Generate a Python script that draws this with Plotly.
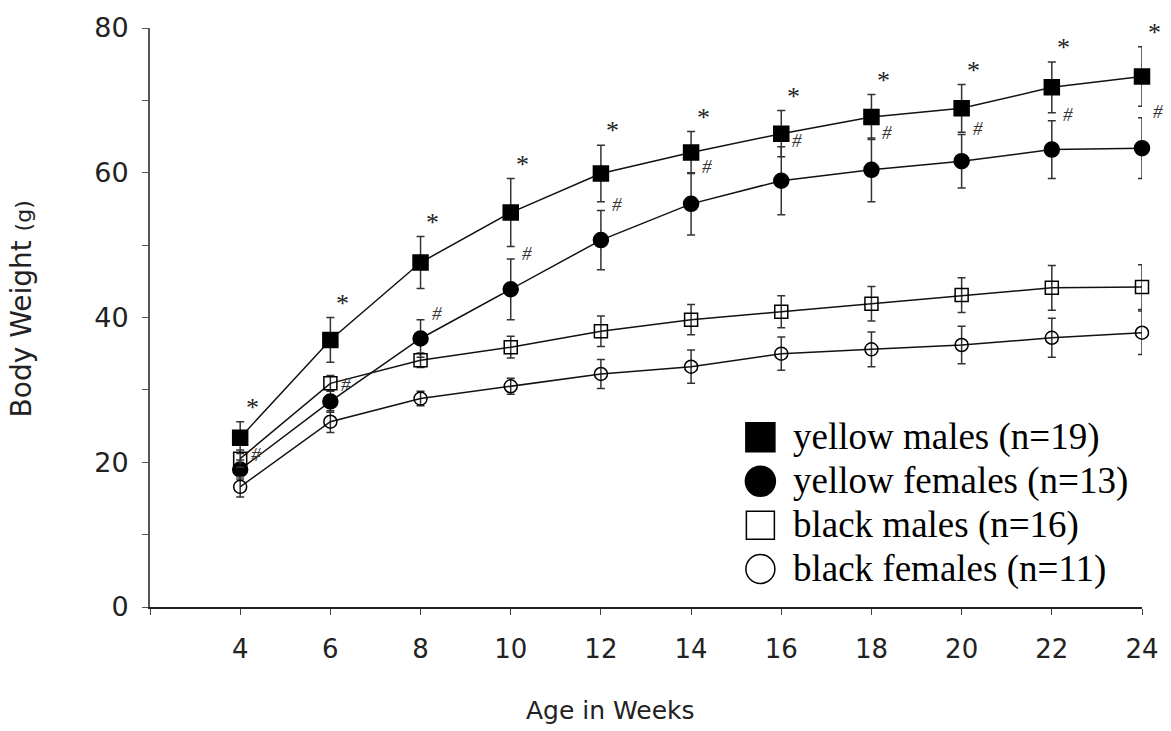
import plotly.graph_objects as go

weeks = [4, 6, 8, 10, 12, 14, 16, 18, 20, 22, 24]

ym_mean = [23.4, 36.9, 47.6, 54.5, 59.9, 62.8, 65.4, 67.7, 68.9, 71.8, 73.3]
ym_sd = [2.2, 3.1, 3.6, 4.7, 3.9, 2.9, 3.2, 3.1, 3.3, 3.5, 4.1]

yf_mean = [19.0, 28.4, 37.1, 43.9, 50.7, 55.7, 58.9, 60.4, 61.6, 63.2, 63.4]
yf_sd = [1.3, 1.5, 2.6, 4.2, 4.1, 4.3, 4.7, 4.4, 3.7, 4.0, 4.2]

bm_mean = [20.5, 30.9, 34.1, 35.9, 38.1, 39.7, 40.8, 41.9, 43.1, 44.1, 44.2]
bm_sd = [1.2, 1.1, 1.0, 1.5, 2.1, 2.1, 2.2, 2.4, 2.4, 3.1, 3.1]

bf_mean = [16.6, 25.6, 28.8, 30.5, 32.2, 33.2, 35.0, 35.6, 36.2, 37.2, 37.9]
bf_sd = [1.4, 1.5, 1.0, 1.1, 2.0, 2.3, 2.3, 2.4, 2.6, 2.7, 3.0]

x_tickvals = [2, 4, 6, 8, 10, 12, 14, 16, 18, 20, 22, 24]
x_ticktext = ["", "4", "6", "8", "10", "12", "14", "16", "18", "20", "22", "24"]
y_tickvals = [0, 20, 40, 60, 80]
y_minor = [10, 30, 50, 70]

legend_labels = ["yellow males (n=19)", "yellow females (n=13)",
                 "black males (n=16)", "black females (n=11)"]
legend_symbols = ["square", "circle", "square-open", "circle-open"]

series = [
    (ym_mean, ym_sd, "square", 15),
    (yf_mean, yf_sd, "circle", 15),
    (bm_mean, bm_sd, "square-open", 13),
    (bf_mean, bf_sd, "circle-open", 13),
]

fig = go.Figure()
for mean, sd, sym, size in series:
    fig.add_trace(go.Scatter(
        x=weeks, y=mean, mode="lines+markers",
        line=dict(color="#111111", width=1.5),
        marker=dict(symbol=sym, size=size, color="#000000", opacity=1,
                    line=dict(color="#000000", width=1.5)),
        error_y=dict(type="data", array=sd, visible=True,
                     color="#333333", thickness=1.5, width=4),
        cliponaxis=False, showlegend=False, hoverinfo="skip",
    ))

# custom legend (large symbols) on a hidden overlay axis
n = len(legend_labels)
leg_x0 = 0.6153
leg_y0 = 0.293
leg_step = 44.5 / 587
leg_y = [leg_y0 - i * leg_step for i in range(n)]
fig.add_trace(go.Scatter(
    x=[leg_x0] * n, y=leg_y, xaxis="x2", yaxis="y2", mode="markers",
    marker=dict(symbol=legend_symbols, size=[29, 30, 28, 29], color="#000000",
                opacity=1, line=dict(color="#000000", width=1.5)),
    showlegend=False, hoverinfo="skip", cliponaxis=False,
))

annotations = []
for lbl, yy in zip(legend_labels, leg_y):
    annotations.append(dict(
        x=leg_x0 + 0.031, y=yy, xref="paper", yref="paper", text=lbl,
        showarrow=False, xanchor="left", yanchor="middle",
        font=dict(family="Liberation Serif", size=37, color="#000000"),
    ))

# significance marks
for w, m, s in zip(weeks, ym_mean, ym_sd):
    annotations.append(dict(
        x=w, y=m + s + 1.7, xref="x", yref="y", text="*",
        showarrow=False, xanchor="center", yanchor="middle",
        xshift=12, yshift=2,
        font=dict(family="Liberation Serif", size=26, color="#222222"),
    ))
for w, m, s in zip(weeks, yf_mean, yf_sd):
    annotations.append(dict(
        x=w, y=m + s + 0.8, xref="x", yref="y", text="<i>#</i>",
        showarrow=False, xanchor="center", yanchor="middle",
        xshift=16,
        font=dict(family="Liberation Serif", size=19, color="#333333"),
    ))

annotations.append(dict(
    x=-0.13, y=0.514, xref="paper", yref="paper",
    text="Body Weight <span style='font-size:22px'>(g)</span>",
    textangle=-90, showarrow=False, xanchor="center", yanchor="middle",
    font=dict(family="DejaVu Sans", size=28, color="#222222"),
))
annotations.append(dict(
    x=0.464, y=-0.179, xref="paper", yref="paper", text="Age in Weeks",
    showarrow=False, xanchor="center", yanchor="middle",
    font=dict(family="DejaVu Sans", size=25, color="#222222"),
))

fig.update_layout(
    width=1171, height=731,
    margin=dict(l=150, r=28, t=20, b=124),
    paper_bgcolor="white", plot_bgcolor="white",
    xaxis=dict(range=[2, 24], tickvals=x_tickvals, ticktext=x_ticktext,
               showgrid=False, zeroline=False, showline=True,
               linecolor="#222222", linewidth=1.5,
               ticks="outside", ticklen=6, tickwidth=1.2, tickcolor="#444444",
               ticklabelstandoff=12,
               tickfont=dict(family="DejaVu Sans", size=26, color="#222222")),
    yaxis=dict(range=[0, 80], tickvals=y_tickvals,
               showgrid=False, zeroline=False, showline=True,
               linecolor="#555555", linewidth=2,
               ticks="outside", ticklen=6, tickwidth=1.2, tickcolor="#555555",
               ticklabelstandoff=8,
               minor=dict(tickvals=y_minor, ticks="outside", ticklen=6,
                          tickwidth=1.2, tickcolor="#555555", showgrid=False),
               tickfont=dict(family="DejaVu Sans", size=27, color="#222222")),
    xaxis2=dict(range=[0, 1], overlaying="x", visible=False, fixedrange=True),
    yaxis2=dict(range=[0, 1], overlaying="y", visible=False, fixedrange=True),
    annotations=annotations,
    showlegend=False,
)

fig.write_html("out.html")
